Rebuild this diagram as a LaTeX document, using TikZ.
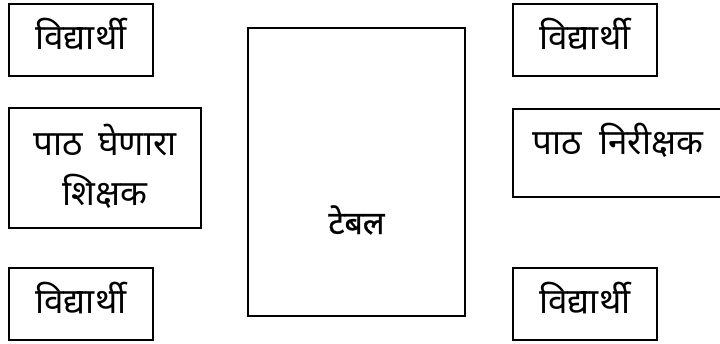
\documentclass[tikz,border=0pt]{standalone}
\usepackage{fontspec}
\newfontfamily\deva[Script=Devanagari]{Noto Sans}
\newfontfamily\devab[Script=Devanagari,FakeBold=0.8]{Noto Sans}
\begin{document}
\begin{tikzpicture}[x=1pt,y=-1pt,
  box/.style={draw,line width=1.8pt,inner sep=0pt,anchor=north west},
  lbl/.style={font=\deva\fontsize{35}{50}\selectfont,inner sep=0pt,align=center}]
\useasboundingbox (0,0) rectangle (720,343);
\node[box,minimum width=144pt,minimum height=72pt] (s1) at (8,3) {};
\node[box,minimum width=192pt,minimum height=120pt] (t) at (8,107) {};
\node[box,minimum width=144pt,minimum height=72pt] (s2) at (8,267) {};
\node[box,minimum width=217pt,minimum height=288pt] (tab) at (247,27) {};
\node[box,minimum width=144pt,minimum height=72pt] (s3) at (512,3) {};
\node[box,minimum width=210pt,minimum height=88pt] (o) at (512,108) {};
\node[box,minimum width=144pt,minimum height=72pt] (s4) at (512,267) {};
\node[lbl] at ([yshift=6pt]s1.center) {विद्यार्थी};
\node[lbl] at ([yshift=6pt]s2.center) {विद्यार्थी};
\node[lbl] at ([yshift=6pt]s3.center) {विद्यार्थी};
\node[lbl] at ([yshift=6pt]s4.center) {विद्यार्थी};
\node[lbl] at ([yshift=2pt]t.center) {पाठ\hspace{0.45em}घेणारा\\शिक्षक};
\node[lbl] at ([yshift=13pt]o.center) {पाठ\hspace{0.5em}निरीक्षक};
\node[lbl,font=\devab\fontsize{32}{50}\selectfont] at ([yshift=-48pt]tab.center) {टेबल};
\end{tikzpicture}
\end{document}
